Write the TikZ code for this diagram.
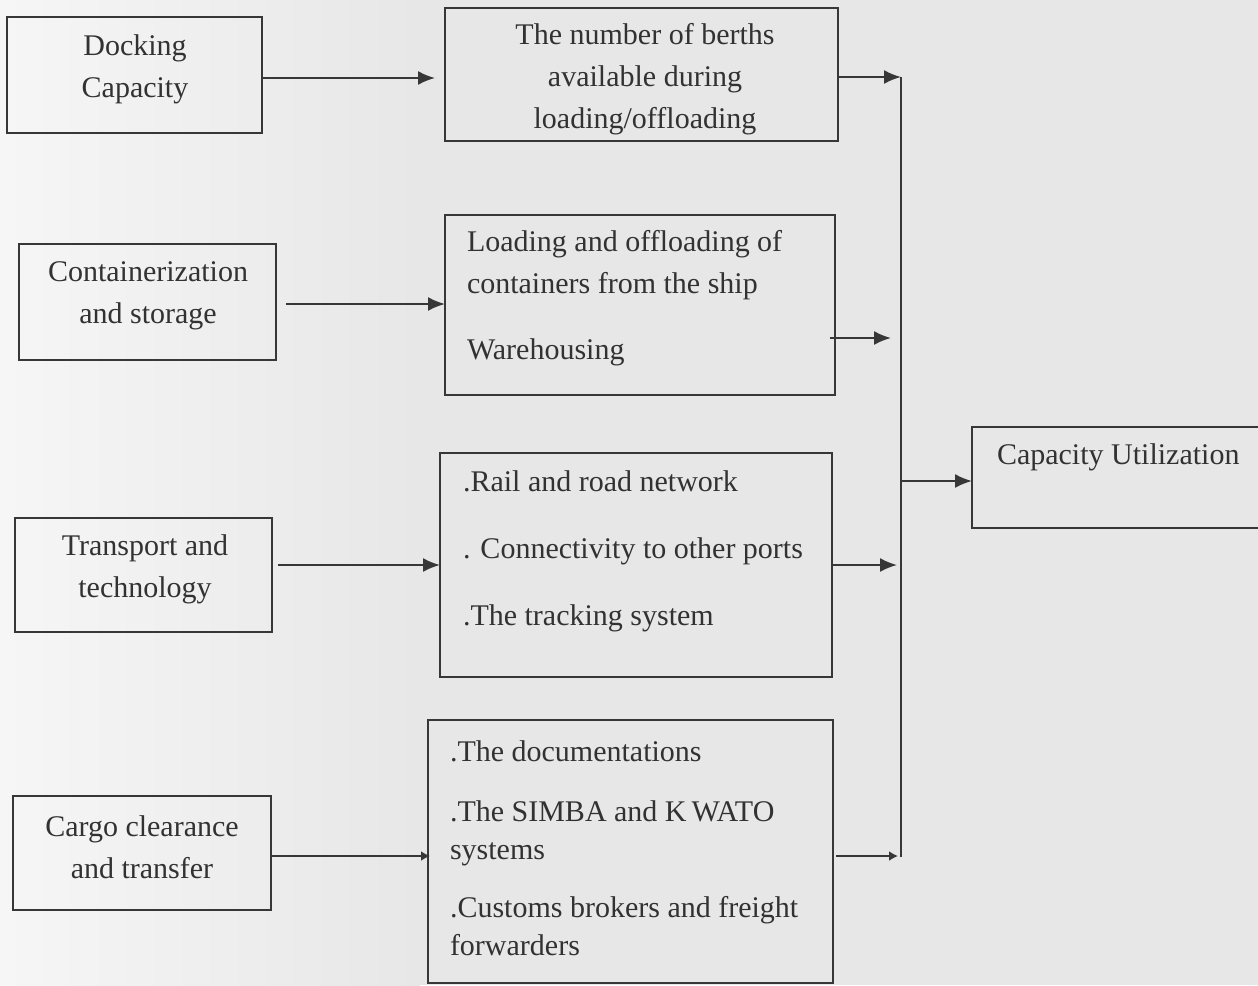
\documentclass[tikz,border=0pt]{standalone}
\usepackage{fontspec}
\setmainfont{Liberation Serif}
\usetikzlibrary{arrows.meta}
\definecolor{ink}{RGB}{55,55,55}
\definecolor{txt}{RGB}{50,50,50}
\definecolor{paper}{RGB}{231,231,231}
\definecolor{paperl}{RGB}{246,246,246}
\tikzset{
  box/.style={draw=ink, line width=1.9pt, inner sep=0pt, outer sep=0pt, anchor=north west, rectangle},
  lbl/.style={text=txt, inner sep=0pt, outer sep=0pt, font=\fontsize{30}{42}\selectfont},
  arr/.style={draw=ink, line width=1.9pt, -{Latex[length=17pt,width=14pt]}},
  sarr/.style={draw=ink, line width=1.9pt, -{Latex[length=9pt,width=10pt]}},
  ln/.style={draw=ink, line width=1.9pt}
}
\begin{document}
\begin{tikzpicture}[x=1pt,y=-1pt]
\useasboundingbox (0,0) rectangle (1258,985);
\clip (0,0) rectangle (1258,985);
\fill[paper] (0,0) rectangle (1258,985);
\shade[left color=paperl, right color=paper] (0,0) rectangle (420,985);

% boxes
\node[box, minimum width=255pt, minimum height=116pt] (dock) at (7,17) {};
\node[box, minimum width=393pt, minimum height=133pt] (berth) at (445,8) {};
\node[box, minimum width=257pt, minimum height=116pt] (cont) at (19,244) {};
\node[box, minimum width=390pt, minimum height=180pt] (load) at (445,215) {};
\node[box, minimum width=320pt, minimum height=101pt] (cap) at (972,427) {};
\node[box, minimum width=257pt, minimum height=114pt] (trans) at (15,518) {};
\node[box, minimum width=392pt, minimum height=224pt] (rail) at (440,453) {};
\node[box, minimum width=258pt, minimum height=114pt] (cargo) at (13,796) {};
\node[box, minimum width=405pt, minimum height=263pt] (doc) at (428,720) {};

% texts
\node[lbl, align=center] (tdock) at (135,69) {Docking\\Capacity};
\node[lbl, align=center] (tberth) at (645,79) {The number of berths\\available during\\loading/offloading};
\node[lbl, align=center] (tcont) at (148,296) {Containerization\\and storage};
\node[lbl, align=left, anchor=west] (tload) at (467,298) {Loading and offloading of\\containers from the ship\\[24pt]Warehousing};
\node[lbl, anchor=west] (tcap) at (997,457) {Capacity Utilization};
\node[lbl, align=center] (ttrans) at (145,569) {Transport and\\technology};
\node[lbl, align=left, anchor=west] (trail) at (463,551) {.Rail and road network\\[25pt]. Connectivity to other ports\\[25pt].The tracking system};
\node[lbl, align=center] (tcargo) at (142,847) {Cargo clearance\\and transfer};
\node[lbl, align=left, anchor=west, font=\fontsize{30}{38}\selectfont] (tdoc) at (450,848) {.The documentations\\[22pt].The SIMBA and K\,WATO\\systems\\[20pt].Customs brokers and freight\\forwarders};

% bus line
\coordinate (bt) at (901,77);
\coordinate (bb) at (901,857);
\draw[ln] (bt) -- (bb);

% input arrows
\draw[arr, shorten >=10pt] ([yshift=-3pt]dock.east) -- ([yshift=-3pt]dock.east -| berth.west);
\draw[arr] ([shift={(10,2)}]cont.east) -- ([shift={(0,2)}]cont.east -| load.west);
\draw[arr] ([shift={(6,-10)}]trans.east) -- ([shift={(0,-10)}]trans.east -| rail.west);
\draw[sarr, shorten >=-2pt] ([yshift=-3pt]cargo.east) -- ([yshift=-3pt]cargo.east -| doc.west);

% output arrows
\draw[arr] ([yshift=-2.5pt]berth.east) -- (bt);
\draw[arr, shorten >=10pt] ([shift={(-5,33)}]load.east) -- ([shift={(0,33)}]load.east -| bt);
\draw[arr, shorten >=4pt] (rail.east) -- (rail.east -| bt);
\draw[sarr, shorten >=3pt] ([shift={(3,4.5)}]doc.east) -- ([shift={(0,4.5)}]doc.east -| bt);
\draw[arr] ([yshift=-3.5pt]cap.west -| bt) -- ([yshift=-3.5pt]cap.west);
\end{tikzpicture}
\end{document}
